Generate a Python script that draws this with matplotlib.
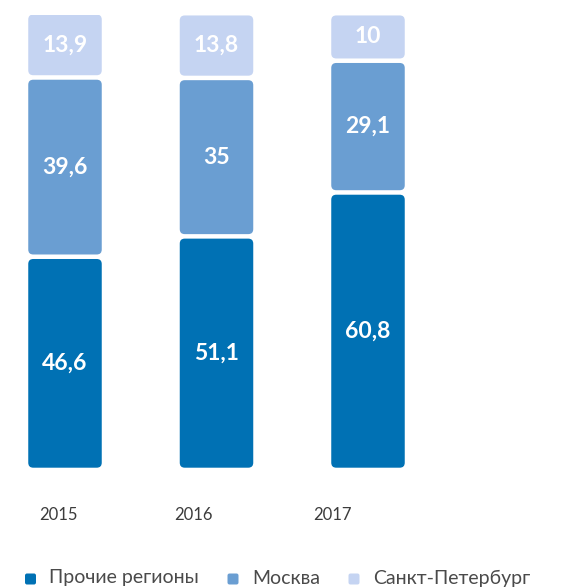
import matplotlib
matplotlib.use("Agg")
import matplotlib.pyplot as plt
from matplotlib.patches import FancyBboxPatch
from matplotlib.transforms import blended_transform_factory

# Data: share of total by region, %
years = ["2015", "2016", "2017"]
series = ["Прочие регионы", "Москва", "Санкт-Петербург"]
other_regions = [46.6, 51.1, 60.8]
moscow = [39.6, 35.0, 29.1]
spb = [13.9, 13.8, 10.0]

colors = ["#0071B4", "#6A9ED2", "#C5D4F2"]
FONT = ["Lato", "DejaVu Sans"]

fig = plt.figure(figsize=(5.76, 5.88), dpi=100)
W, H = 576, 588
bar_bottom_px, bar_top_px = 467.7, 15.0
ax = fig.add_axes([0, (H - bar_bottom_px) / H, 1, (bar_bottom_px - bar_top_px) / H])
px_per_x = 151.5
ax.set_xlim(-65 / px_per_x, (W - 65) / px_per_x)
ax.set_ylim(0, 100)
ax.axis("off")

x_pos = [0, 1, 2]
bar_w = 73.5 / px_per_x
px_per_y = (bar_bottom_px - bar_top_px) / 100.0
gap = 4.5 / px_per_y          # vertical gap between stacked segments
radius_px = 5.0
aspect = px_per_x / px_per_y

stack = [other_regions, moscow, spb]
for i, x in enumerate(x_pos):
    base = 0.0
    for k, vals in enumerate(stack):
        v = vals[i]
        y0 = base + (gap / 2 if k > 0 else 0)
        y1 = base + v - (gap / 2 if k < len(stack) - 1 else 0)
        patch = FancyBboxPatch(
            (x - bar_w / 2, y0), bar_w, y1 - y0,
            boxstyle=f"round,pad=0,rounding_size={radius_px / px_per_x}",
            mutation_aspect=aspect,
            facecolor=colors[k], edgecolor="none",
        )
        ax.add_patch(patch)
        label = f"{v:g}".replace(".", ",")
        ax.text(x, (y0 + y1) / 2, label, ha="center", va="center",
                color="white", fontsize=16.5, fontweight="bold", family=FONT)
        base += v

# Year captions under the bars
year_x = [-0.046, 0.851, 1.762]
trans = blended_transform_factory(ax.transData, ax.transAxes)
for xp, yr in zip(year_x, years):
    ax.text(xp, (bar_bottom_px - 515) / (bar_bottom_px - bar_top_px), yr,
            transform=trans, ha="center", va="center",
            fontsize=12, color="#3c3c3c", family=FONT)

# Legend
marker_x = [30.5, 233, 354]
text_x = [49, 252, 373]
leg_y = 578
for k, name in enumerate(series):
    sq = FancyBboxPatch(
        ((marker_x[k] - 5.5) / W, 1 - (leg_y + 6.5) / H), 11 / W, 11 / H,
        boxstyle=f"round,pad=0,rounding_size={2 / W}",
        mutation_aspect=W / H,
        transform=fig.transFigure, facecolor=colors[k], edgecolor="none")
    fig.add_artist(sq)
    fig.text(text_x[k] / W, 1 - leg_y / H, name, ha="left", va="center",
             fontsize=14, color="#4a4a4a", family=FONT)

fig.savefig("out.png", dpi=100, facecolor="white")
